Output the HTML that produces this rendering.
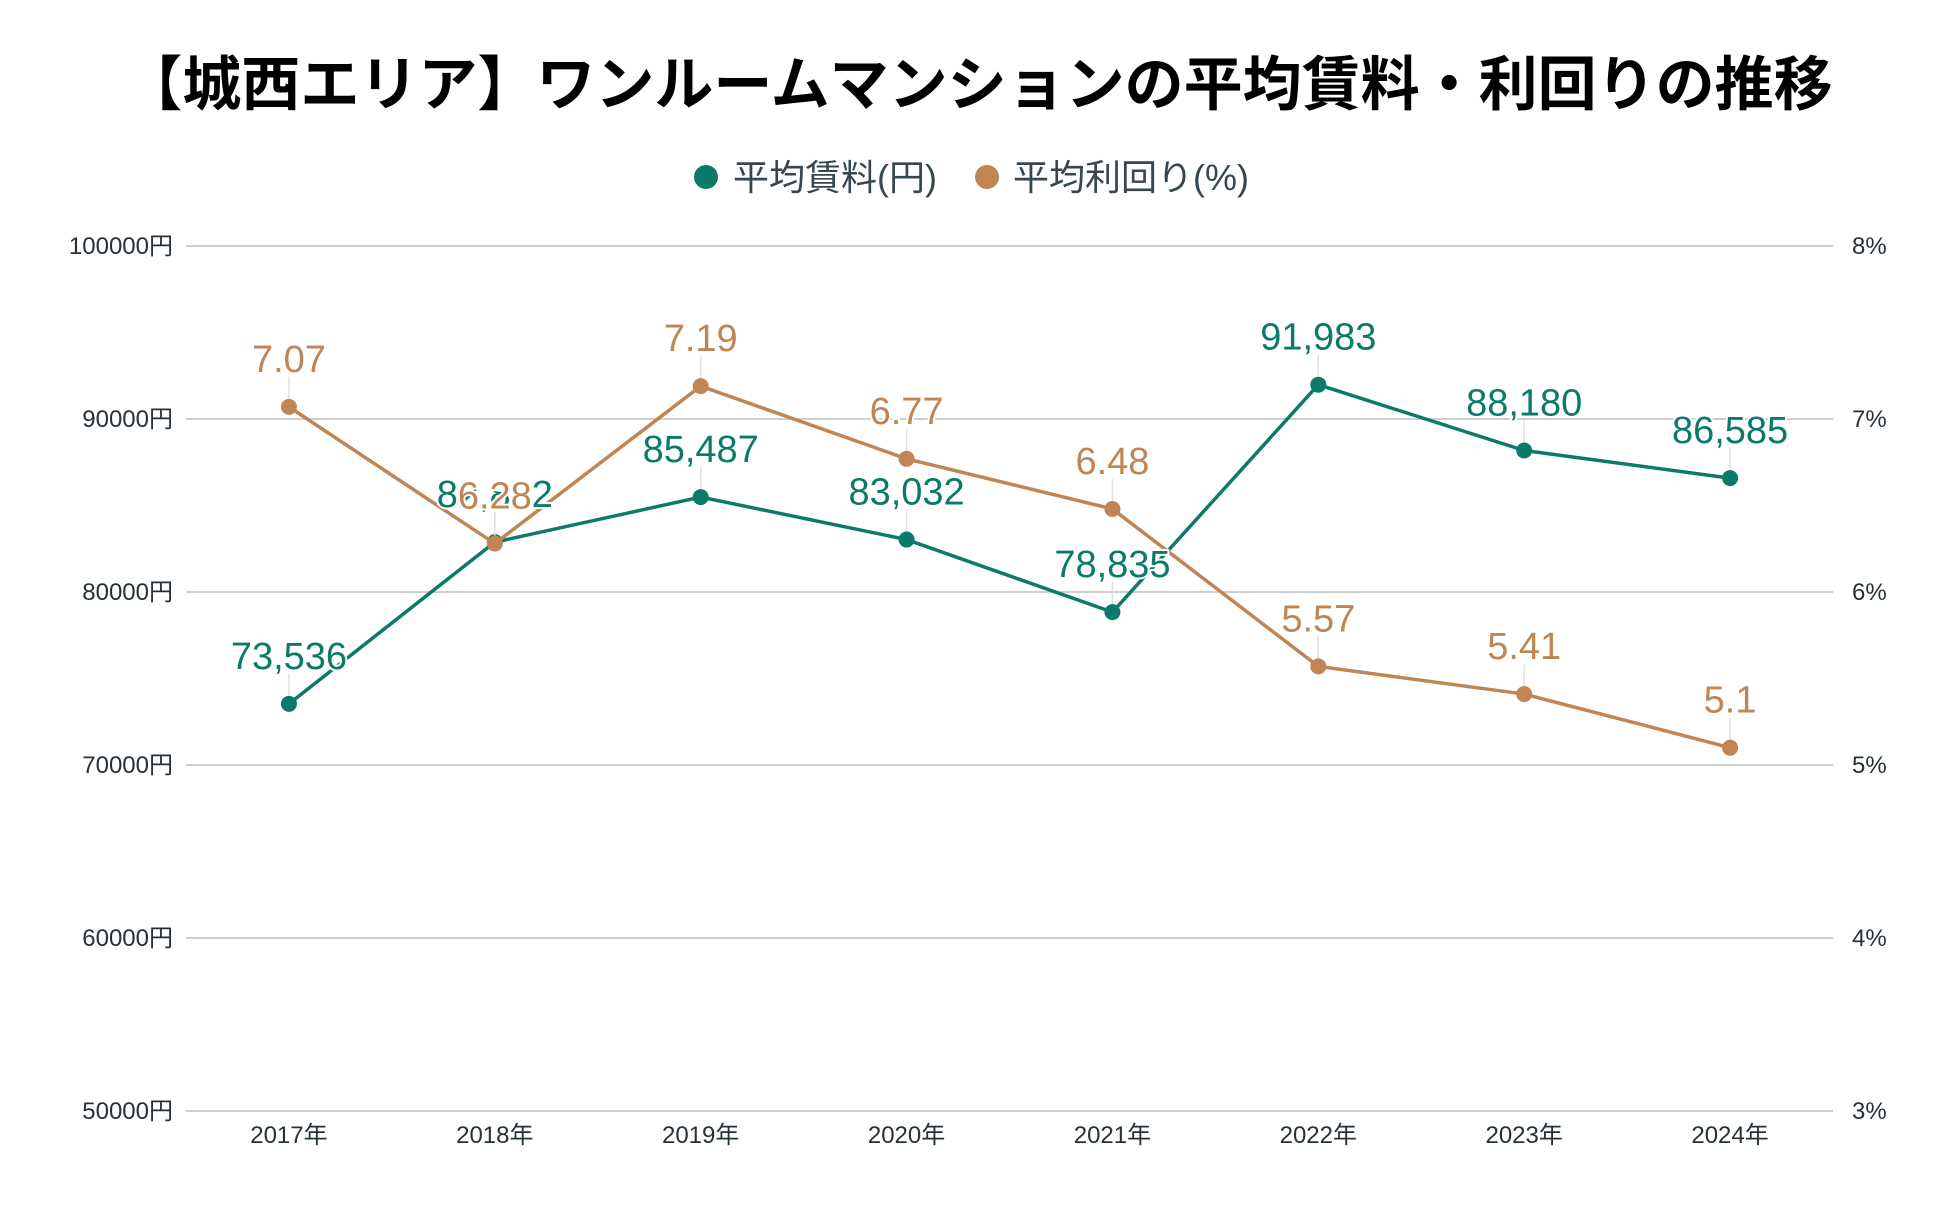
<!DOCTYPE html>
<html><head><meta charset="utf-8">
<style>
html,body{margin:0;padding:0;background:#fff;}
svg{display:block;}
text{font-family:"Liberation Sans","Noto Sans CJK JP",sans-serif;}
</style></head>
<body>
<svg id="chart" width="1950" height="1207" viewBox="0 0 1950 1207" xmlns="http://www.w3.org/2000/svg">
<text x="978" y="105" text-anchor="middle" font-size="59" font-weight="bold" fill="#000" style="font-family:'Noto Sans CJK JP',sans-serif;">【城西エリア】ワンルームマンションの平均賃料・利回りの推移</text>
<g>
  <g>
    <circle cx="706" cy="177" r="12" fill="#0b7a68"/>
    <text x="733" y="190" font-size="36" fill="#37474f">平均賃料(円)</text>
  </g>
  <g>
    <circle cx="987" cy="177" r="12" fill="#c08552"/>
    <text x="1013" y="190" font-size="36" fill="#37474f">平均利回り(%)</text>
  </g>
</g>
<g id="grid"></g>
<g id="axes"></g>
<g id="series"></g>
</svg>
<script>
const categories = ['2017年','2018年','2019年','2020年','2021年','2022年','2023年','2024年'];
const rentValues = [73536, 82882, 85487, 83032, 78835, 91983, 88180, 86585];
const rentLabels = ['73,536','82,882','85,487','83,032','78,835','91,983','88,180','86,585'];
const yieldValues = [7.07, 6.28, 7.19, 6.77, 6.48, 5.57, 5.41, 5.1];
const yieldLabels = ['7.07','6.28','7.19','6.77','6.48','5.57','5.41','5.1'];
const leftTicks = [50000, 60000, 70000, 80000, 90000, 100000];
const leftTickLabels = ['50000円','60000円','70000円','80000円','90000円','100000円'];
const rightTicks = [3, 4, 5, 6, 7, 8];
const rightTickLabels = ['3%','4%','5%','6%','7%','8%'];

const NS = 'http://www.w3.org/2000/svg';
const plotL = 186, plotR = 1833, plotT = 246, plotB = 1111;
const band = (plotR - plotL) / categories.length;
function x(i){ return plotL + band * (i + 0.5); }
function yL(v){ return plotB - (v - 50000) / 50000 * (plotB - plotT); }
function yR(v){ return plotB - (v - 3) / 5 * (plotB - plotT); }
function mk(tag, attrs, parent){ const e=document.createElementNS(NS,tag); for(const k in attrs) e.setAttribute(k,attrs[k]); parent.appendChild(e); return e; }

const grid = document.getElementById('grid');
const axes = document.getElementById('axes');
leftTicks.forEach((t,i)=>{
  const ln = mk('line',{x1:plotL,x2:plotR,y1:yL(t),y2:yL(t),stroke:'#cfcfcf','stroke-width':2},grid);
  
  
  const tx = mk('text',{x:173,y:yL(t)+8,'text-anchor':'end','font-size':24,fill:'#263238'},axes);
  tx.textContent = leftTickLabels[i];
  
  
});
rightTicks.forEach((t,i)=>{
  const tx = mk('text',{x:1852,y:yR(t)+8,'text-anchor':'start','font-size':24,fill:'#263238'},axes);
  tx.textContent = rightTickLabels[i];
  
  
});
categories.forEach((c,i)=>{
  const tx = mk('text',{x:x(i),y:1143,'text-anchor':'middle','font-size':24,fill:'#263238'},axes);
  tx.textContent = c;
  
  
});

const series = document.getElementById('series');
function drawSeries(vals, labels, yf, color, name){
  const g = mk('g',{},series);
  
  
  const pts = vals.map((v,i)=>x(i)+','+yf(v)).join(' ');
  const pl = mk('polyline',{points:pts,fill:'none',stroke:color,'stroke-width':3.5,'stroke-linejoin':'round'},g);
  
  
  vals.forEach((v,i)=>{
    const cn = mk('line',{x1:x(i),x2:x(i),y1:yf(v)-30,y2:yf(v)-8,stroke:'#e0e0e0','stroke-width':1.5},g);
    
    
    const c = mk('circle',{cx:x(i),cy:yf(v),r:8,fill:color},g);
    
    
  });
  return g;
}
function drawLabels(vals, labels, yf, color, name){
  vals.forEach((v,i)=>{
    const t = mk('text',{x:x(i),y:yf(v)-35,'text-anchor':'middle','font-size':38,fill:color,stroke:'#fff','stroke-width':4,'paint-order':'stroke'},series);
    t.textContent = labels[i];
    
    
  });
}
drawSeries(rentValues, rentLabels, yL, '#0b7a68', 'rent');
drawSeries(yieldValues, yieldLabels, yR, '#c08552', 'yield');
drawLabels(rentValues, rentLabels, yL, '#0b7a68', 'rent');
drawLabels(yieldValues, yieldLabels, yR, '#c08552', 'yield');
</script>
</body></html>
